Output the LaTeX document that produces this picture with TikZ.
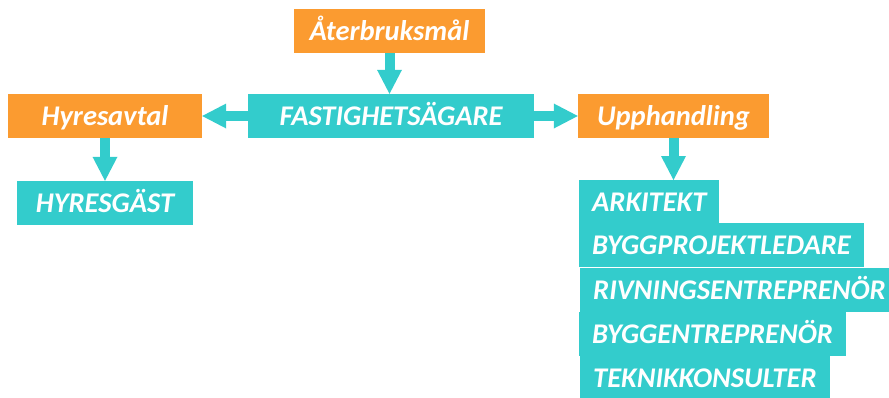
\documentclass[tikz,border=0pt]{standalone}
\usepackage{fontspec}
\setmainfont{Carlito}
\usetikzlibrary{arrows.meta}
\definecolor{teal1}{RGB}{51,204,204}
\definecolor{orange1}{RGB}{251,155,48}
\begin{document}
\begin{tikzpicture}[x=1pt,y=-1pt,
  lbl/.style={text=white,font=\fontsize{28.5}{31}\selectfont\bfseries\itshape,
    inner sep=0pt,minimum height=44pt,text height=22pt,text depth=4pt},
  orangebox/.style={lbl,fill=orange1},
  tealbox/.style={lbl,fill=teal1},
  stackbox/.style={lbl,fill=teal1,anchor=north west,inner xsep=13pt},
  flow/.style={draw=teal1,line width=10pt,
    -{Triangle[width=25pt,length=24pt,line width=0pt]}}]
\useasboundingbox (0,0) rectangle (889,397);

% top row and goal
\node[orangebox,minimum width=191pt] (ater) at (389.5,31) {Återbruksmål};
\node[tealbox,minimum width=286pt] (fast) at (391,116) {FASTIGHETSÄGARE};
\node[orangebox,minimum width=194pt] (hyr) at (105,116) {Hyresavtal};
\node[orangebox,minimum width=191pt] (upp) at (673.5,116) {Upphandling};
\node[tealbox,minimum width=176pt] (hg) at (105,203) {HYRESGÄST};

% procured parties
\node[stackbox] (ark) at (579,180) {ARKITEKT};
\node[stackbox] (bpl) at (579,223) {BYGGPROJEKTLEDARE};
\node[stackbox] (riv) at (580,268) {RIVNINGSENTREPRENÖR};
\node[stackbox] (bye) at (579,312) {BYGGENTREPRENÖR};
\node[stackbox] (tek) at (580,356) {TEKNIKKONSULTER};

% connectors
\draw[flow] (ater.south) -- (ater.south |- fast.north);
\draw[flow] (fast.west) -- (hyr.east);
\draw[flow] (fast.east) -- (upp.west);
\draw[flow] (hyr.south) -- (hg.north);
\draw[flow] (upp.south) -- (upp.south |- ark.north);
\end{tikzpicture}
\end{document}
